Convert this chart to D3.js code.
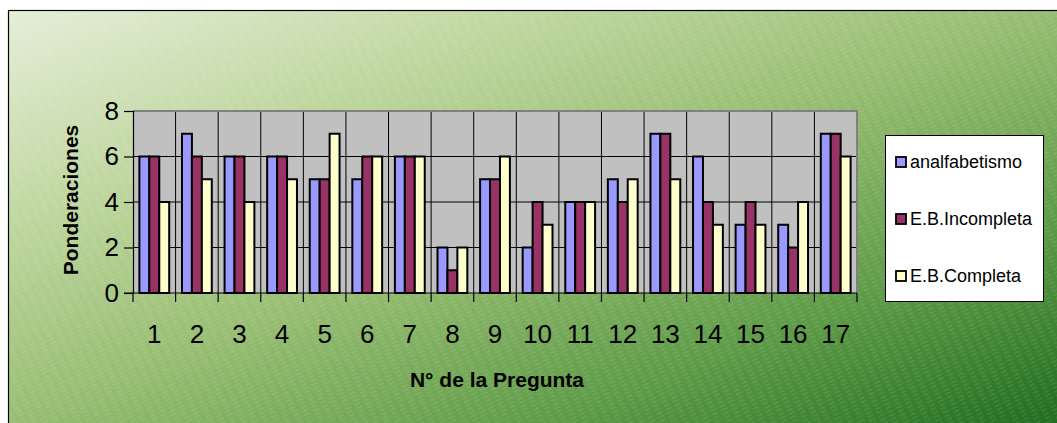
<!DOCTYPE html>
<html>
<head>
<meta charset="utf-8">
<script src="https://cdn.jsdelivr.net/npm/d3@7"></script>
<style>
  html, body { margin: 0; padding: 0; background: #fff; }
  svg { display: block; font-family: Arial, 'Liberation Sans', sans-serif; }
</style>
</head>
<body>
<div id="chart"></div>
<script>
// data
const preguntas = ['1', '2', '3', '4', '5', '6', '7', '8', '9', '10', '11', '12', '13', '14', '15', '16', '17']
const analfabetismo = [6, 7, 6, 6, 5, 5, 6, 2, 5, 2, 4, 5, 7, 6, 3, 3, 7]
const ebIncompleta = [6, 6, 6, 6, 5, 6, 6, 1, 5, 4, 4, 4, 7, 4, 4, 2, 7]
const ebCompleta = [4, 5, 4, 5, 7, 6, 6, 2, 6, 3, 4, 5, 5, 3, 3, 4, 6]
const seriesNames = ['analfabetismo', 'E.B.Incompleta', 'E.B.Completa']
const seriesColors = ['#9999ff', '#993366', '#ffffcc']
const yTicks = [0, 2, 4, 6, 8]

const width = 1057
const height = 423
const plot = { left: 133, right: 857, top: 111, bottom: 293 }
const font = 'Arial, Liberation Sans, sans-serif'

const svg = d3.select('#chart').append('svg')
  .attr('width', width)
  .attr('height', height)

const defs = svg.append('defs')

// background gradient, light top-left to dark green bottom-right
const grad = defs.append('linearGradient')
  .attr('id', 'bg')
  .attr('x1', 0).attr('y1', 0)
  .attr('x2', 1).attr('y2', 1)
grad.append('stop').attr('offset', '0%').attr('stop-color', '#e4eed8')
grad.append('stop').attr('offset', '25%').attr('stop-color', '#c0d7a0')
grad.append('stop').attr('offset', '50%').attr('stop-color', '#95bc70')
grad.append('stop').attr('offset', '75%').attr('stop-color', '#5c9a46')
grad.append('stop').attr('offset', '100%').attr('stop-color', '#1d6a1d')

// faint diagonal hatch
const hatch = defs.append('pattern')
  .attr('id', 'hatch')
  .attr('patternUnits', 'userSpaceOnUse')
  .attr('width', 10).attr('height', 4)
  .attr('patternTransform', 'rotate(-25)')
hatch.append('line')
  .attr('x1', 0).attr('y1', 1).attr('x2', 6).attr('y2', 1)
  .attr('stroke', '#ffffff').attr('stroke-opacity', 0.15).attr('stroke-width', 1)

svg.append('rect')
  .attr('x', 8.5).attr('y', 10.5)
  .attr('width', width).attr('height', height)
  .attr('fill', 'url(#bg)')
svg.append('rect')
  .attr('x', 8.5).attr('y', 10.5)
  .attr('width', width).attr('height', height)
  .attr('fill', 'url(#hatch)')
  .attr('stroke', '#000')
  .attr('stroke-width', 1.2)

// scales
const x0 = d3.scaleBand()
  .domain(preguntas)
  .range([plot.left, plot.right])
  .paddingInner(0.3)
  .paddingOuter(0.15)

const xEdge = d3.scaleLinear()
  .domain([0, preguntas.length])
  .range([plot.left, plot.right])

const x1 = d3.scaleBand()
  .domain(seriesNames)
  .range([0, x0.bandwidth()])

const y = d3.scaleLinear()
  .domain([0, 8])
  .range([plot.bottom, plot.top])

// plot area
svg.append('rect')
  .attr('x', plot.left).attr('y', plot.top)
  .attr('width', plot.right - plot.left)
  .attr('height', plot.bottom - plot.top)
  .attr('fill', '#c0c0c0')

// horizontal gridlines
svg.append('g')
  .selectAll('line')
  .data(yTicks.filter(d => d > 0 && d < 8))
  .join('line')
  .attr('x1', plot.left).attr('x2', plot.right)
  .attr('y1', d => y(d)).attr('y2', d => y(d))
  .attr('stroke', '#000').attr('stroke-width', 1)

// vertical gridlines at category boundaries
svg.append('g')
  .selectAll('line')
  .data(d3.range(1, preguntas.length))
  .join('line')
  .attr('x1', d => xEdge(d)).attr('x2', d => xEdge(d))
  .attr('y1', plot.top).attr('y2', plot.bottom)
  .attr('stroke', '#000').attr('stroke-width', 1)

// plot border (gray top/right)
svg.append('path')
  .attr('d', `M${plot.left},${plot.top}H${plot.right}V${plot.bottom}`)
  .attr('fill', 'none')
  .attr('stroke', '#808080')
  .attr('stroke-width', 2)

// bars
const table = preguntas.map((p, i) => ({
  p,
  vals: [analfabetismo[i], ebIncompleta[i], ebCompleta[i]]
}))

svg.append('g')
  .selectAll('g')
  .data(table)
  .join('g')
  .attr('transform', d => `translate(${x0(d.p)},0)`)
  .selectAll('rect')
  .data(d => d.vals.map((v, k) => ({ key: seriesNames[k], v, k })))
  .join('rect')
  .attr('x', d => x1(d.key))
  .attr('y', d => y(d.v))
  .attr('width', x1.bandwidth())
  .attr('height', d => y(0) - y(d.v))
  .attr('fill', d => seriesColors[d.k])
  .attr('stroke', '#000')
  .attr('stroke-width', 2)

// y axis
const yAxis = svg.append('g')
  .attr('transform', `translate(${plot.left},0)`)
  .call(d3.axisLeft(y).tickValues(yTicks).tickSize(9).tickPadding(5))
yAxis.select('.domain').attr('stroke', '#000').attr('stroke-width', 1.2)
yAxis.selectAll('.tick line').attr('stroke', '#000').attr('stroke-width', 1.2)
yAxis.selectAll('text')
  .style('font-size', '26px')
  .style('font-family', font)
  .attr('fill', '#000')

// x axis line and ticks at boundaries
svg.append('line')
  .attr('x1', plot.left - 9).attr('x2', plot.right)
  .attr('y1', plot.bottom).attr('y2', plot.bottom)
  .attr('stroke', '#000').attr('stroke-width', 1.2)
svg.append('g')
  .selectAll('line')
  .data(d3.range(0, preguntas.length + 1))
  .join('line')
  .attr('x1', d => xEdge(d)).attr('x2', d => xEdge(d))
  .attr('y1', plot.bottom).attr('y2', plot.bottom + 9)
  .attr('stroke', '#000').attr('stroke-width', 1.2)

svg.append('g')
  .selectAll('text')
  .data(preguntas)
  .join('text')
  .attr('x', (d, i) => (xEdge(i) + xEdge(i + 1)) / 2)
  .attr('y', 343)
  .attr('text-anchor', 'middle')
  .style('font-size', '26px')
  .style('font-family', font)
  .text(d => d)

// axis titles
svg.append('text')
  .attr('x', 497).attr('y', 387)
  .attr('text-anchor', 'middle')
  .style('font-size', '21px')
  .style('font-weight', 'bold')
  .style('font-family', font)
  .text('N° de la Pregunta')

svg.append('text')
  .attr('transform', 'translate(78,200) rotate(-90)')
  .attr('text-anchor', 'middle')
  .style('font-size', '21px')
  .style('font-weight', 'bold')
  .style('font-family', font)
  .text('Ponderaciones')

// legend
const legend = svg.append('g')
legend.append('rect')
  .attr('x', 885.5).attr('y', 135.5)
  .attr('width', 158).attr('height', 166)
  .attr('fill', '#fff')
  .attr('stroke', '#000')
  .attr('stroke-width', 1)

const items = legend.selectAll('g.item')
  .data(seriesNames)
  .join('g')
  .attr('class', 'item')
  .attr('transform', (d, i) => `translate(896,${163 + i * 57})`)
items.append('rect')
  .attr('x', 0).attr('y', -6)
  .attr('width', 10).attr('height', 10)
  .attr('fill', (d, i) => seriesColors[i])
  .attr('stroke', '#000')
  .attr('stroke-width', 1.8)
items.append('text')
  .attr('x', 14).attr('y', 5)
  .style('font-size', '18px')
  .style('font-family', font)
  .text(d => d)
</script>
</body>
</html>
